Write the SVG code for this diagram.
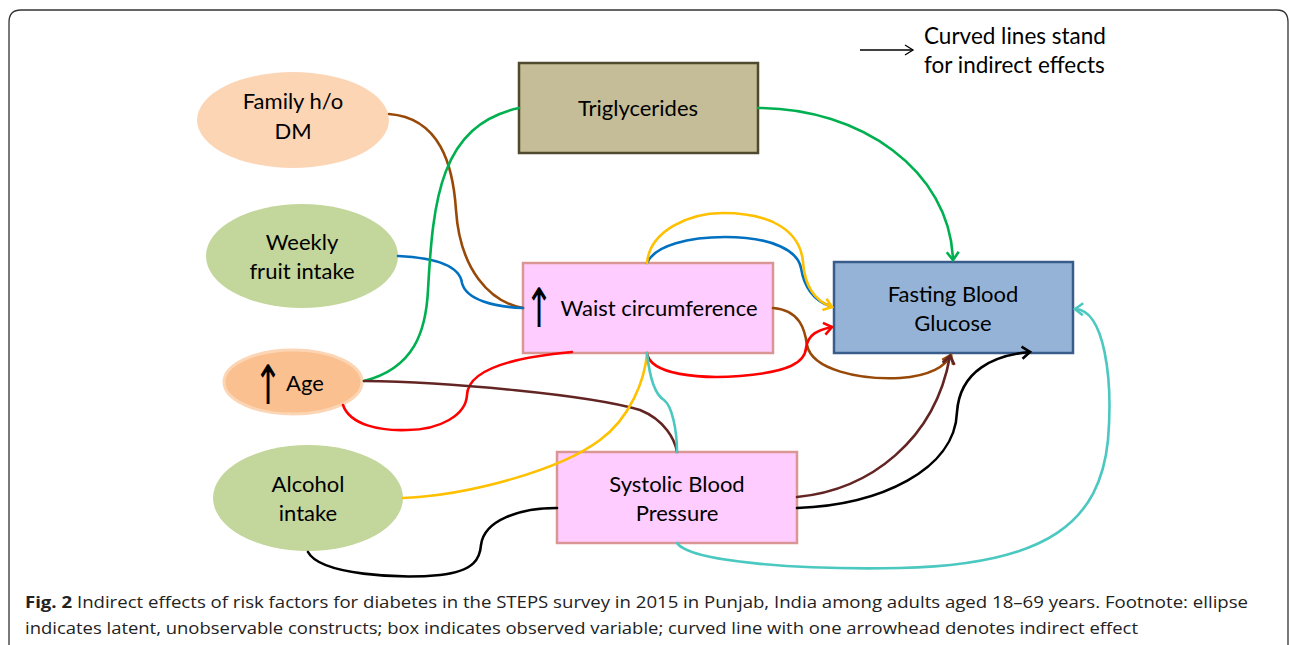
<svg xmlns="http://www.w3.org/2000/svg" width="1290" height="645" viewBox="0 0 1290 645">
<style>
.lbl{font-family:Lato,"Open Sans",sans-serif;font-size:22px;fill:#000;text-anchor:middle}
.cap{font-family:"Open Sans","Liberation Sans",sans-serif;font-size:16px;fill:#222}
.c{fill:none;stroke-width:2.6;stroke-linecap:round}
.arw{font-family:"DejaVu Sans",sans-serif;font-size:34px;fill:#000;text-anchor:middle}
</style>
<defs>
<marker id="mGreen" markerUnits="userSpaceOnUse" markerWidth="16" markerHeight="16" refX="12" refY="8" orient="auto"><path d="M4,2 L12,8 L4,14" fill="none" stroke="#00b050" stroke-width="2.6"/></marker>
<marker id="mYellow" markerUnits="userSpaceOnUse" markerWidth="16" markerHeight="16" refX="12" refY="8" orient="auto"><path d="M4,2 L12,8 L4,14" fill="none" stroke="#ffc000" stroke-width="2.6"/></marker>
<marker id="mRed" markerUnits="userSpaceOnUse" markerWidth="16" markerHeight="16" refX="12" refY="8" orient="auto"><path d="M4,2 L12,8 L4,14" fill="none" stroke="#ff0000" stroke-width="2.6"/></marker>
<marker id="mBrown" markerUnits="userSpaceOnUse" markerWidth="16" markerHeight="16" refX="12" refY="8" orient="auto"><path d="M4,2 L12,8 L4,14" fill="none" stroke="#984807" stroke-width="2.6"/></marker>
<marker id="mDark" markerUnits="userSpaceOnUse" markerWidth="16" markerHeight="16" refX="12" refY="8" orient="auto"><path d="M4,2 L12,8 L4,14" fill="none" stroke="#632523" stroke-width="2.6"/></marker>
<marker id="mBlack" markerUnits="userSpaceOnUse" markerWidth="16" markerHeight="16" refX="12" refY="8" orient="auto"><path d="M4,2 L12,8 L4,14" fill="none" stroke="#000" stroke-width="2.6"/></marker>
<marker id="mCyan" markerUnits="userSpaceOnUse" markerWidth="16" markerHeight="16" refX="12" refY="8" orient="auto"><path d="M4,2 L12,8 L4,14" fill="none" stroke="#4bc8c0" stroke-width="2.6"/></marker>
<marker id="mLeg" markerUnits="userSpaceOnUse" markerWidth="14" markerHeight="14" refX="11" refY="7" orient="auto"><path d="M3,2 L11,7 L3,12" fill="none" stroke="#000" stroke-width="1.3"/></marker>
</defs>
<rect x="0" y="0" width="1290" height="645" fill="#fff"/>
<path d="M9,660 L9,22 Q9,10 21,10 L1277,10 Q1288,10 1288,22 L1288,660" fill="none" stroke="#333" stroke-width="1.3"/>

<g id="legend">
<line x1="860" y1="50" x2="913" y2="50" stroke="#000" stroke-width="1.3" marker-end="url(#mLeg)"/>
<text x="924" y="44" style="font-family:Lato,'Open Sans',sans-serif;font-size:22.5px">Curved lines stand</text>
<text x="924" y="73" style="font-family:Lato,'Open Sans',sans-serif;font-size:22.5px">for indirect effects</text>
</g>

<g id="family">
<ellipse cx="293" cy="120" rx="96" ry="48" fill="#fcd5b5"/>
<text class="lbl" x="293" y="109">Family h/o</text>
<text class="lbl" x="293" y="139">DM</text>
</g>
<g id="fruit">
<ellipse cx="302" cy="256" rx="96" ry="52" fill="#c3d69b"/>
<text class="lbl" x="302" y="250">Weekly</text>
<text class="lbl" x="302" y="279">fruit intake</text>
</g>
<g id="age">
<ellipse cx="293" cy="382" rx="69" ry="32" fill="#fac090" stroke="#fcd5b5" stroke-width="3"/>
<text class="arw" transform="translate(268,404) scale(1,1.6)">↑</text>
<text class="lbl" x="305" y="391">Age</text>
</g>
<g id="alcohol">
<ellipse cx="308" cy="498" rx="95" ry="53" fill="#c3d69b"/>
<text class="lbl" x="308" y="492">Alcohol</text>
<text class="lbl" x="308" y="521">intake</text>
</g>
<g id="trig">
<rect x="519" y="63" width="239" height="90" fill="#c4bd97" stroke="#4f4a2e" stroke-width="2.5"/>
<text class="lbl" x="638" y="116">Triglycerides</text>
</g>
<g id="waist">
<rect x="523" y="263" width="250" height="90" fill="#ffccff" stroke="#d99694" stroke-width="2.5"/>
<text class="arw" transform="translate(539,327) scale(1,1.6)">↑</text>
<text class="lbl" x="659" y="316">Waist circumference</text>
</g>
<g id="fbg">
<rect x="834" y="262" width="239" height="91" fill="#95b3d7" stroke="#385d8a" stroke-width="2.5"/>
<text class="lbl" x="953" y="302">Fasting Blood</text>
<text class="lbl" x="953" y="331">Glucose</text>
</g>
<g id="sbp">
<rect x="557" y="452" width="240" height="91" fill="#ffccff" stroke="#d99694" stroke-width="2.5"/>
<text class="lbl" x="677" y="492">Systolic Blood</text>
<text class="lbl" x="677" y="521">Pressure</text>
</g>

<g id="connectors">
<path class="c" stroke="#984807" d="M389,114 C440,118 453,165 456,210 C460,270 490,302 523,308"/>
<path class="c" stroke="#0070c0" d="M398,256 C440,258 460,268 462,283 C466,300 495,307 523,308"/>
<path class="c" stroke="#00b050" d="M364,381 C415,368 426,330 428,290 C433,200 440,125 519,108"/>
<path class="c" stroke="#00b050" marker-end="url(#mGreen)" d="M758,108 C860,108 950,170 953,260"/>
<path class="c" stroke="#0070c0" d="M647,263 C655,245 690,237 725,237 C775,237 798,252 801,268 C805,292 818,302 830,306"/>
<path class="c" stroke="#ffc000" marker-end="url(#mYellow)" d="M647,263 C650,230 690,213 723,213 C770,213 800,230 803,262 C805,290 818,302 832,307"/>
<path class="c" stroke="#984807" marker-end="url(#mBrown)" d="M773,308 C800,310 805,330 807,345 C812,370 860,380 900,378 C930,376 946,366 951,355"/>
<path class="c" stroke="#ff0000" marker-end="url(#mRed)" d="M647,353 C650,375 700,379 740,376 C790,372 805,362 806,348 C808,334 818,330 832,327"/>
<path class="c" stroke="#ff0000" d="M343,405 C350,425 380,431 407,430 C440,430 466,415 467,395 C468,372 505,358 572,352"/>
<path class="c" stroke="#632523" d="M364,381 C450,382 590,395 640,410 C665,420 675,440 677,452"/>
<path class="c" stroke="#ffc000" d="M403,498 C470,495 560,470 600,440 C630,418 645,380 647,353"/>
<path class="c" stroke="#4bc8c0" d="M647,353 C649,372 654,394 664,400 C672,406 677,430 677,452"/>
<path class="c" stroke="#000" d="M308,552 C320,575 400,579 440,575 C475,571 480,558 481,545 C484,520 520,508 557,508"/>
<path class="c" stroke="#632523" marker-end="url(#mDark)" d="M797,497 C870,490 935,440 950,356"/>
<path class="c" stroke="#000" marker-end="url(#mBlack)" d="M797,508 C880,505 955,470 957,412 C960,370 995,355 1030,352"/>
<path class="c" stroke="#4bc8c0" marker-end="url(#mCyan)" d="M677,543 C690,562 800,570 900,568 C1050,565 1100,520 1108,440 C1113,380 1105,310 1075,309"/>
</g>

<g id="caption">
<text class="cap" x="25" y="608" textLength="1223" lengthAdjust="spacingAndGlyphs"><tspan font-weight="bold">Fig. 2</tspan> Indirect effects of risk factors for diabetes in the STEPS survey in 2015 in Punjab, India among adults aged 18–69 years. Footnote: ellipse</text>
<text class="cap" x="25" y="634" textLength="1113" lengthAdjust="spacingAndGlyphs">indicates latent, unobservable constructs; box indicates observed variable; curved line with one arrowhead denotes indirect effect</text>
</g>
</svg>
